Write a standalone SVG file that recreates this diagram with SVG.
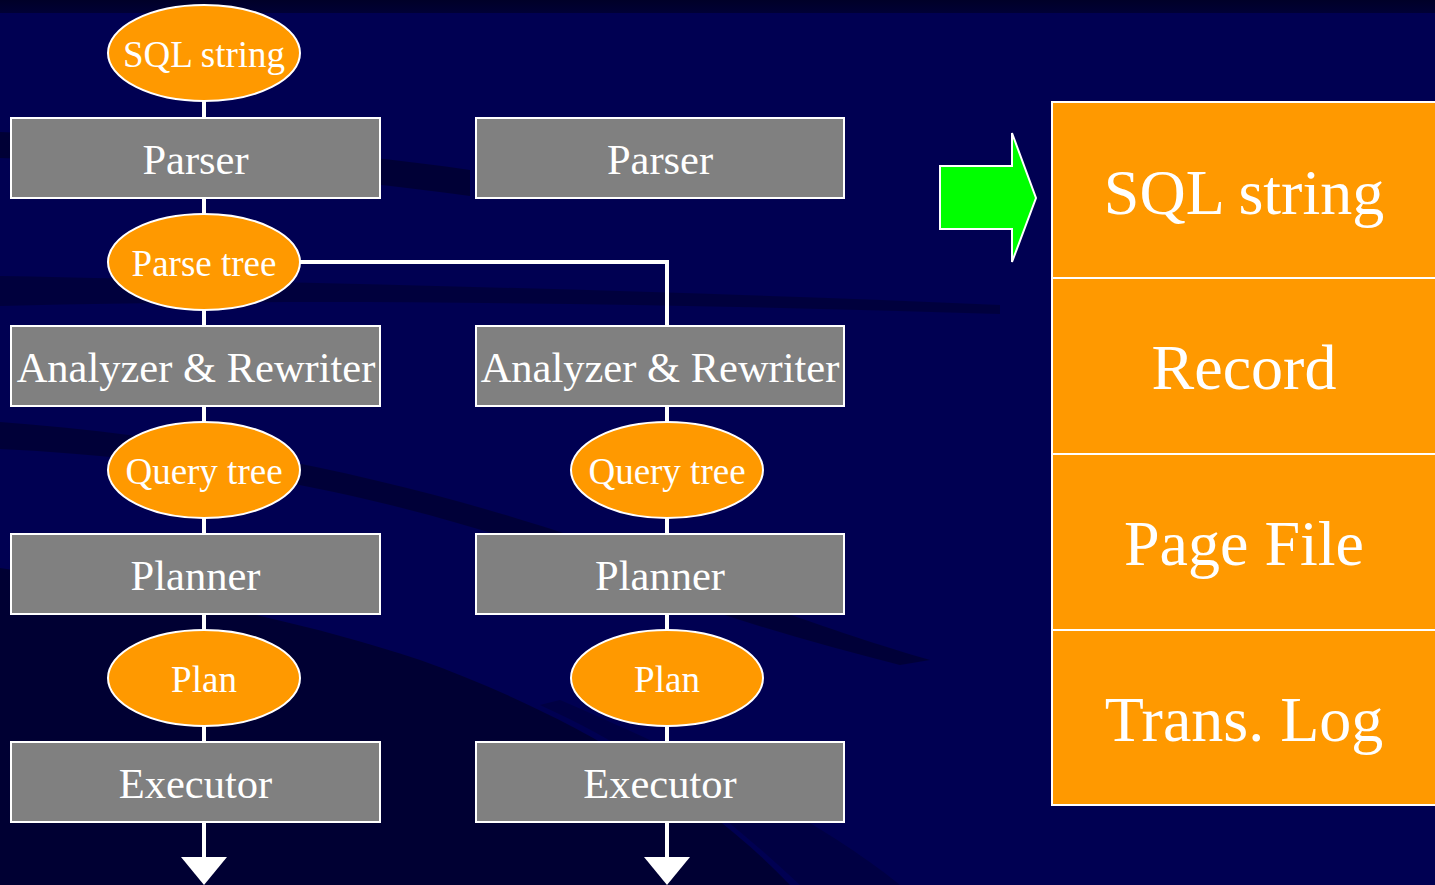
<svg xmlns="http://www.w3.org/2000/svg" width="1435" height="885" viewBox="0 0 1435 885">
  <defs>
    <style>
      .box { fill: #808080; stroke: #ffffff; stroke-width: 2; }
      .oval { fill: #ff9900; stroke: #ffffff; stroke-width: 2; }
      .cell { fill: #ff9900; stroke: #ffffff; stroke-width: 2; }
      .wire { fill: none; stroke: #ffffff; stroke-width: 4; }
      .head { fill: #ffffff; }
      text { font-family: "Liberation Serif", "Times New Roman", serif; fill: #ffffff; text-anchor: middle; }
      .t-box { font-size: 42.5px; }
      .t-oval { font-size: 37px; }
      .t-cell { font-size: 64px; }
    </style>
    <linearGradient id="topStrip" x1="0" y1="0" x2="0" y2="1">
      <stop offset="0" stop-color="#000028"/>
      <stop offset="1" stop-color="#000035"/>
    </linearGradient>
  </defs>

  <!-- background -->
  <rect x="0" y="0" width="1435" height="885" fill="#000052"/>
  <rect x="0" y="0" width="1435" height="13" fill="url(#topStrip)"/>
  <g id="swooshes" fill="#000030">
    <path d="M0,132 C150,138 320,148 470,170 L470,196 C320,176 150,162 0,158 Z" opacity="0.8"/>
    <path d="M0,276 C300,282 650,290 1000,305 L1000,314 C650,303 300,298 0,306 Z" opacity="0.6"/>
    <path d="M0,422 C250,440 480,500 640,560 C760,605 860,640 930,660 L900,665 C800,640 700,610 600,570 C440,510 240,460 0,449 Z" opacity="0.75"/>
    <path d="M0,568 C150,590 300,620 420,660 C560,710 700,790 790,885 L0,885 Z" opacity="0.9"/>
    <path d="M560,700 C700,760 820,820 900,885 L800,885 C720,810 640,750 540,705 Z" opacity="0.45"/>
  </g>

  <!-- connectors -->
  <g id="connectors">
    <path class="wire" d="M204,101 V118 M204,198 V214 M204,310 V326 M204,406 V422 M204,518 V534 M204,614 V630 M204,726 V742 M204,822 V858"/>
    <polygon class="head" points="181,857 227,857 204,885"/>
    <path class="wire" d="M300,262 H667 V326"/>
    <path class="wire" d="M667,406 V422 M667,518 V534 M667,614 V630 M667,726 V742 M667,822 V858"/>
    <polygon class="head" points="644,857 690,857 667,885"/>
  </g>

  <!-- left pipeline -->
  <g id="sql-string">
    <ellipse class="oval" cx="204" cy="53" rx="96" ry="48"/>
    <text class="t-oval" x="204" y="67">SQL string</text>
  </g>
  <g id="parser-a">
    <rect class="box" x="11" y="118" width="369" height="80"/>
    <text class="t-box" x="195.5" y="174">Parser</text>
  </g>
  <g id="parse-tree">
    <ellipse class="oval" cx="204" cy="262" rx="96" ry="48"/>
    <text class="t-oval" x="204" y="276">Parse tree</text>
  </g>
  <g id="analyzer-a">
    <rect class="box" x="11" y="326" width="369" height="80"/>
    <text class="t-box" x="196" y="382">Analyzer &amp; Rewriter</text>
  </g>
  <g id="query-tree-a">
    <ellipse class="oval" cx="204" cy="470" rx="96" ry="48"/>
    <text class="t-oval" x="204" y="484">Query tree</text>
  </g>
  <g id="planner-a">
    <rect class="box" x="11" y="534" width="369" height="80"/>
    <text class="t-box" x="195.5" y="590">Planner</text>
  </g>
  <g id="plan-a">
    <ellipse class="oval" cx="204" cy="678" rx="96" ry="48"/>
    <text class="t-oval" x="204" y="692">Plan</text>
  </g>
  <g id="executor-a">
    <rect class="box" x="11" y="742" width="369" height="80"/>
    <text class="t-box" x="195.5" y="798">Executor</text>
  </g>

  <!-- right pipeline -->
  <g id="parser-b">
    <rect class="box" x="476" y="118" width="368" height="80"/>
    <text class="t-box" x="660" y="174">Parser</text>
  </g>
  <g id="analyzer-b">
    <rect class="box" x="476" y="326" width="368" height="80"/>
    <text class="t-box" x="660" y="382">Analyzer &amp; Rewriter</text>
  </g>
  <g id="query-tree-b">
    <ellipse class="oval" cx="667" cy="470" rx="96" ry="48"/>
    <text class="t-oval" x="667" y="484">Query tree</text>
  </g>
  <g id="planner-b">
    <rect class="box" x="476" y="534" width="368" height="80"/>
    <text class="t-box" x="660" y="590">Planner</text>
  </g>
  <g id="plan-b">
    <ellipse class="oval" cx="667" cy="678" rx="96" ry="48"/>
    <text class="t-oval" x="667" y="692">Plan</text>
  </g>
  <g id="executor-b">
    <rect class="box" x="476" y="742" width="368" height="80"/>
    <text class="t-box" x="660" y="798">Executor</text>
  </g>

  <!-- block arrow -->
  <g id="block-arrow">
    <polygon points="940,166 1012,166 1012,133 1036,198 1012,262 1012,229 940,229" fill="#00ff00" stroke="#ffffff" stroke-width="2"/>
  </g>

  <!-- storage stack -->
  <g id="stack-sql">
    <rect class="cell" x="1052" y="102" width="392" height="176"/>
    <text class="t-cell" x="1244" y="214">SQL string</text>
  </g>
  <g id="stack-record">
    <rect class="cell" x="1052" y="278" width="392" height="176"/>
    <text class="t-cell" x="1244" y="389">Record</text>
  </g>
  <g id="stack-page">
    <rect class="cell" x="1052" y="454" width="392" height="176"/>
    <text class="t-cell" x="1244" y="565">Page File</text>
  </g>
  <g id="stack-log">
    <rect class="cell" x="1052" y="630" width="392" height="175"/>
    <text class="t-cell" x="1244" y="741">Trans. Log</text>
  </g>
</svg>
